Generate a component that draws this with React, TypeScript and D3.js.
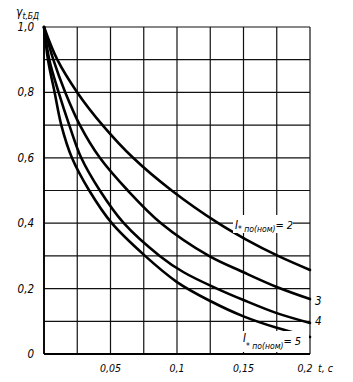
import * as d3 from "d3"

// t, s  -> relative value
const curve2T = [0, 0.01, 0.025, 0.044, 0.067, 0.096, 0.131, 0.152, 0.176, 0.2]
const curve2V = [1, 0.9, 0.8, 0.7, 0.6, 0.5, 0.4, 0.35, 0.3, 0.257]
const curve3T = [0, 0.007, 0.016, 0.027, 0.042, 0.063, 0.088, 0.124, 0.15, 0.175, 0.2]
const curve3V = [1, 0.9, 0.8, 0.7, 0.6, 0.5, 0.4, 0.3, 0.25, 0.205, 0.168]
const curve4T = [0, 0.004, 0.011, 0.019, 0.028, 0.042, 0.06, 0.087, 0.105, 0.13, 0.15, 0.175, 0.2]
const curve4V = [1, 0.9, 0.8, 0.7, 0.6, 0.5, 0.4, 0.3, 0.25, 0.2, 0.165, 0.125, 0.095]
const curve5T = [0, 0.003, 0.008, 0.013, 0.021, 0.034, 0.051, 0.076, 0.1, 0.125, 0.15, 0.175, 0.2]
const curve5V = [1, 0.9, 0.8, 0.7, 0.6, 0.5, 0.4, 0.3, 0.22, 0.162, 0.115, 0.08, 0.052]

const xTicks = [0.05, 0.1, 0.15, 0.2]
const xTickLabels = ["0,05", "0,1", "0,15", "0,2"]
const yTicks = [0, 0.2, 0.4, 0.6, 0.8, 1.0]
const yTickLabels = ["0", "0,2", "0,4", "0,6", "0,8", "1,0"]

const W = 353
const H = 382
const FONT = "'Liberation Sans Narrow', 'DejaVu Sans Condensed', 'DejaVu Sans', sans-serif"

const x = d3.scaleLinear().domain([0, 0.2]).range([44, 310])
const y = d3.scaleLinear().domain([0, 1]).range([354, 27])

const line = d3
  .line<[number, number]>()
  .x((d) => x(d[0]))
  .y((d) => y(d[1]))
  .curve(d3.curveCatmullRom.alpha(0.5))

function zip(ts: number[], vs: number[]): [number, number][] {
  return ts.map((t, i) => [t, vs[i]])
}

export default function App() {
  const curves = [
    zip(curve2T, curve2V),
    zip(curve3T, curve3V),
    zip(curve4T, curve4V),
    zip(curve5T, curve5V),
  ]
  const vGrid = d3.range(0, 9).map((i) => i * 0.025)
  const hGrid = d3.range(0, 11).map((i) => i * 0.1)

  return (
    <svg
      width={W}
      height={H}
      viewBox={`0 0 ${W} ${H}`}
      style={{ position: "absolute", left: 0, top: 0, background: "#fff" }}
      fontFamily={FONT}
    >
      {/* grid */}
      <g stroke="#111" strokeWidth={1.2}>
        {vGrid.map((t) => (
          <line key={"v" + t} x1={x(t)} x2={x(t)} y1={y(0)} y2={y(1)} />
        ))}
        {hGrid.map((v) => (
          <line key={"h" + v} x1={x(0)} x2={x(0.2)} y1={y(v)} y2={y(v)} />
        ))}
      </g>
      <line x1={x(0)} x2={x(0)} y1={y(0)} y2={y(1)} stroke="#000" strokeWidth={1.8} />
      <line x1={x(0)} x2={x(0.2)} y1={y(0)} y2={y(0)} stroke="#000" strokeWidth={1.8} />

      {/* curves */}
      <g fill="none" stroke="#000" strokeWidth={2.6} strokeLinecap="round">
        {curves.map((c, i) => (
          <path key={i} d={line(c) ?? ""} />
        ))}
      </g>

      {/* y ticks */}
      <g fontSize={11.5} fontStyle="italic" textAnchor="end" fill="#000">
        {yTicks.map((v, i) => (
          <text key={v} x={34} y={y(v) + 4}>
            {yTickLabels[i]}
          </text>
        ))}
      </g>
      {/* x ticks */}
      <g fontSize={10.5} fontStyle="italic" textAnchor="middle" fill="#000">
        {xTicks.map((t, i) => (
          <text key={t} x={x(t) - (t === 0.2 ? 5 : 0)} y={372}>
            {xTickLabels[i]}
          </text>
        ))}
      </g>
      <text x={318} y={372} fontSize={10.5} fontStyle="italic">
        t, c
      </text>

      {/* axis title */}
      <text x={16} y={16} fontSize={12} fontStyle="italic">
        γ
        <tspan fontSize={8.5} dy={3}>
          t,БД
        </tspan>
      </text>

      {/* curve labels */}
      <rect x={233} y={215} width={60} height={18} fill="#fff" />
      <text x={235} y={229} fontSize={11.5} fontStyle="italic">
        I
        <tspan fontSize={8.5} dy={3}>
          * по(ном)
        </tspan>
        <tspan fontSize={11} dy={-3}>
          = 2
        </tspan>
      </text>

      <rect x={241} y={331} width={68} height={21} fill="#fff" />
      <text x={243} y={342} fontSize={11.5} fontStyle="italic">
        I
        <tspan fontSize={8.5} dy={7}>
          * по(ном)
        </tspan>
        <tspan fontSize={11} dy={-4}>
          = 5
        </tspan>
      </text>

      <text x={315} y={305} fontSize={11.5} fontStyle="italic">
        3
      </text>
      <text x={315} y={325} fontSize={11.5} fontStyle="italic">
        4
      </text>
    </svg>
  )
}
